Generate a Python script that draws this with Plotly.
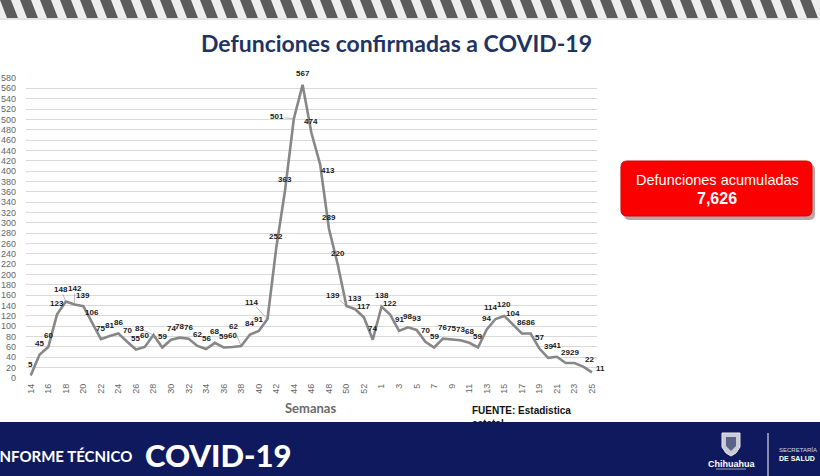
import plotly.graph_objects as go

# weekly confirmed COVID-19 deaths, Chihuahua (week 14 of 2020 to week 25 of 2021)
weeks = ["14", "15", "16", "17", "18", "19", "20", "21", "22", "23", "24", "25",
         "26", "27", "28", "29", "30", "31", "32", "33", "34", "35", "36", "37",
         "38", "39", "40", "41", "42", "43", "44", "45", "46", "47", "48", "49",
         "50", "51", "52", "53",
         "1", "2", "3", "4", "5", "6", "7", "8", "9", "10", "11", "12", "13",
         "14", "15", "16", "17", "18", "19", "20", "21", "22", "23", "24", "25"]
deaths = [5, 45, 60, 123, 148, 142, 139, 106, 75, 81, 86, 70,
          55, 60, 83, 59, 74, 78, 76, 62, 56, 68, 59, 60,
          62, 84, 91, 114, 252, 363, 501, 567, 474, 413, 289, 220,
          139, 133, 117, 74,
          138, 122, 91, 98, 93, 70, 59, 76, 75, 73, 68, 59, 94,
          114, 120, 104, 86, 86, 57, 39, 41, 29, 29, 22, 11]
y_ticks = list(range(0, 600, 20))
total_label = "7,626"

# plot area in pixels (820x476 page)
L, R, T, B = 26, 597, 78, 378
W, H = 820, 476


def px(x):
    return (x - L) / (R - L)


def py(y):
    return (B - y) / (B - T)


def path(points):
    return "M " + " L ".join(f"{px(x):.4f},{py(y):.4f}" for x, y in points) + " Z"


def rounded_rect(x0, y0, x1, y1, r):
    p = lambda x, y: f"{px(x):.4f},{py(y):.4f}"
    return (f"M {p(x0 + r, y0)} L {p(x1 - r, y0)} Q {p(x1, y0)} {p(x1, y0 + r)} "
            f"L {p(x1, y1 - r)} Q {p(x1, y1)} {p(x1 - r, y1)} "
            f"L {p(x0 + r, y1)} Q {p(x0, y1)} {p(x0, y1 - r)} "
            f"L {p(x0, y0 + r)} Q {p(x0, y0)} {p(x0 + r, y0)} Z")


def ptext(text, x, y, font, **kw):
    a = dict(text=text, x=px(x), y=py(y), xref="paper", yref="paper",
             showarrow=False, xanchor="center", yanchor="middle", font=font)
    a.update(kw)
    return a


x = list(range(len(deaths)))

fig = go.Figure()
fig.add_trace(
    go.Scatter(
        x=x,
        y=deaths,
        mode="lines",
        line=dict(color="#878787", width=2.6),
        hoverinfo="skip",
    )
)

# value labels; a few sit off to the side with a leader line
leaders = {4: (-5, -12), 5: (0, -16), 14: (-14, -7), 24: (-8, -19),
           27: (-16, -17), 30: (-17, -2), 36: (-13, -11)}
shifted = {33: (8, -6), 53: (-5, 12), 63: (6, 7), 64: (8, 4)}
label_font = dict(family="Liberation Sans", size=8, color="#1a1a1a", weight="bold")

annotations = []
for i, v in enumerate(deaths):
    if i in leaders:
        ax, ay = leaders[i]
        annotations.append(dict(
            x=x[i], y=v, text=str(v), showarrow=True, ax=ax, ay=ay,
            arrowhead=0, arrowwidth=0.6, arrowcolor="#8a8a8a", standoff=1,
            font=label_font, borderpad=0,
        ))
    else:
        xs, ys = shifted.get(i, (0, 11))
        annotations.append(dict(
            x=x[i], y=v, text=str(v), showarrow=False, xshift=xs, yshift=ys,
            xanchor="center", yanchor="middle", font=label_font,
        ))

white = "white"
annotations += [
    ptext("Defunciones confirmadas a COVID-19", 396, 43,
          dict(family="Lato", size=23, color="#1f3462", weight="bold")),
    ptext("Semanas", 310, 408,
          dict(family="Lato", size=13, color="#6b6b6b", weight="bold")),
    ptext("FUENTE: Estadistica", 470, 410,
          dict(family="Liberation Sans", size=10, color="#111111", weight="bold"),
          xanchor="left"),
    ptext("estatal", 470, 423,
          dict(family="Liberation Sans", size=10, color="#111111", weight="bold"),
          xanchor="left"),
    # cover the lower half of "estatal" with the footer colour
    ptext(" ", 465, 422, dict(size=10), xanchor="left", yanchor="top",
          width=70, height=14, bgcolor="#0f1a5e", borderpad=0),
    ptext("Defunciones acumuladas", 717, 180,
          dict(family="Liberation Sans", size=14.5, color=white)),
    ptext(total_label, 717, 198,
          dict(family="Liberation Sans", size=16, color=white, weight="bold")),
    ptext("INFORME TÉCNICO", 134, 456,
          dict(family="Lato", size=15, color=white, weight="bold"), xanchor="right"),
    ptext("COVID-19", 143, 455,
          dict(family="Lato", size=31, color=white, weight=900), xanchor="left"),
    ptext("Chihuahua", 731, 464,
          dict(family="Liberation Sans", size=9, color=white, weight="bold")),
    ptext("SECRETARÍA", 777, 450,
          dict(family="Liberation Sans", size=6, color="#d8dbe8"), xanchor="left"),
    ptext("DE SALUD", 777, 458,
          dict(family="Liberation Sans", size=7, color=white, weight="bold"),
          xanchor="left"),
]

shapes = []
# striped header
shapes.append(dict(type="rect", xref="paper", yref="paper", x0=px(0), x1=px(W),
                   y0=py(0), y1=py(18), fillcolor="#eeeeee", line_width=0, layer="below"))
stripes = " ".join(path([(k * 20, 0), (k * 20 + 11, 0), (k * 20 + 18, 18), (k * 20 + 7, 18)])
                   for k in range(-1, 43))
shapes.append(dict(type="path", xref="paper", yref="paper", path=stripes,
                   fillcolor="#5c5c5c", line_width=0, layer="below"))
shapes.append(dict(type="line", xref="paper", yref="paper", x0=px(0), x1=px(W),
                   y0=py(19), y1=py(19), line=dict(color="#c8c8c8", width=1)))
# red total box with soft shadow
shapes.append(dict(type="path", xref="paper", yref="paper",
                   path=rounded_rect(624, 164, 815, 220, 6),
                   fillcolor="rgba(60,0,0,0.35)", line_width=0))
shapes.append(dict(type="path", xref="paper", yref="paper",
                   path=rounded_rect(621, 161, 812, 216, 6),
                   fillcolor="#fa0000", line=dict(color="#d40000", width=1)))
# footer band
shapes.append(dict(type="rect", xref="paper", yref="paper", x0=px(0), x1=px(W),
                   y0=py(422), y1=py(H), fillcolor="#0f1a5e", line_width=0))
# crest and divider in the footer
shapes.append(dict(type="path", xref="paper", yref="paper",
                   path=path([(722, 433), (740, 433), (740, 447), (736, 453), (731, 456),
                              (726, 453), (722, 447)]),
                   fillcolor="#c9ccd6", line=dict(color="#e6e8ee", width=1)))
shapes.append(dict(type="path", xref="paper", yref="paper",
                   path=path([(726, 437), (736, 437), (736, 446), (731, 451), (726, 446)]),
                   fillcolor="#5b6488", line_width=0))
shapes.append(dict(type="line", xref="paper", yref="paper", x0=px(716), x1=px(746),
                   y0=py(469), y1=py(469), line=dict(color="#9aa0bb", width=1)))
shapes.append(dict(type="line", xref="paper", yref="paper", x0=px(768), x1=px(768),
                   y0=py(433), y1=py(H), line=dict(color=white, width=1)))

axis_font = dict(family="Liberation Sans", size=9, color="#666666")
fig.update_layout(
    width=W,
    height=H,
    margin=dict(l=L, r=W - R, t=T, b=H - B, pad=0),
    paper_bgcolor="white",
    plot_bgcolor="white",
    showlegend=False,
    xaxis=dict(
        range=[-0.54, 64.57],
        tickvals=x[::2],
        ticktext=weeks[::2],
        tickangle=-90,
        tickfont=axis_font,
        showgrid=False,
        zeroline=False,
        showline=False,
        ticks="",
        ticklabelstandoff=3,
        automargin=False,
        fixedrange=True,
    ),
    yaxis=dict(
        range=[0, 580],
        tickvals=y_ticks,
        tickfont=axis_font,
        showgrid=True,
        gridcolor="#d9d9d9",
        gridwidth=1,
        zeroline=False,
        showline=False,
        ticks="",
        ticklabelstandoff=9,
        automargin=False,
        fixedrange=True,
    ),
    annotations=annotations,
    shapes=shapes,
)

# the page's default body margin would push the figure 8px off the window
fig.write_html("out.html", config={"displayModeBar": False},
               post_script="document.body.style.margin = '0';")
